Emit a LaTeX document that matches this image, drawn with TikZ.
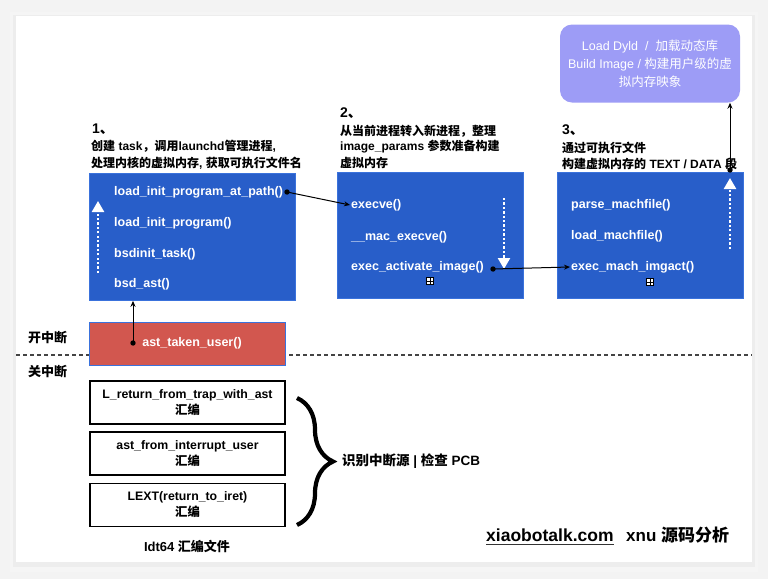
\documentclass[tikz,border=0pt]{standalone}
\usepackage{fontspec}
\setmainfont{Liberation Sans}
\newfontfamily\cjk{Noto Sans CJK SC}
\newcommand\zh[1]{{\cjk #1}}
\usetikzlibrary{arrows.meta,decorations.pathreplacing,calc}
\definecolor{boxblue}{HTML}{285EC9}
\definecolor{blueedge}{HTML}{3A72DC}
\definecolor{boxred}{HTML}{D2574F}
\definecolor{lav}{HTML}{9D9CF6}
\definecolor{bgcol}{HTML}{F3F3F3}
\definecolor{dashcol}{HTML}{444444}
\tikzset{
 bluebox/.style={draw=blueedge, fill=boxblue, line width=0.8pt, inner sep=0, anchor=north west},
 fn/.style={text=white, anchor=west, inner sep=0, font=\bfseries\fontsize{12.5}{14}\selectfont},
 hdr/.style={anchor=west, inner sep=0, font=\bfseries\fontsize{12}{14}\selectfont},
 num/.style={anchor=west, inner sep=0, font=\bfseries\fontsize{14}{16}\selectfont},
 conn/.style={line width=1pt, -{Stealth[length=6pt,width=5pt]}},
 dotarr/.style={white, line width=2.4pt, dash pattern=on 2.3pt off 2.1pt, -{Triangle[length=11pt,width=12pt]}},
 asmbox/.style={draw=black, line width=1.2pt, fill=white, minimum width=195, minimum height=43, inner sep=0, align=center, font=\bfseries\fontsize{12.3}{16}\selectfont},
 plusbox/.style={draw=black, fill=white, minimum size=7pt, inner sep=0, line width=0.6pt},
 side/.style={anchor=west, inner sep=0, font=\bfseries\fontsize{13}{15}\selectfont},
}
\begin{document}
\begin{tikzpicture}[x=1pt,y=-1pt]
\useasboundingbox (0,0) rectangle (768,579);
\fill[bgcol] (0,0) rectangle (768,579);
\fill[black!4] (10,12) rectangle (758,572);
\fill[black!7] (13,15) rectangle (755,567);
\fill[white] (16,16) rectangle (752,562);

% dashed separator
\draw[dashcol, line width=1.6pt, dash pattern=on 4pt off 3pt] (16,355) -- (752,355);
\node[side] (on) at (28,338) {\zh{开中断}};
\node[side] (off) at (28,372) {\zh{关中断}};

% box 1
\node[num] (n1) at (92,129) {1\zh{、}};
\node[hdr] (h11) at (91,146) {\zh{创建} task\zh{，调用}launchd\zh{管理进程}, };
\node[hdr] (h12) at (91,163) {\zh{处理内核的虚拟内存}, \zh{获取可执行文件名}};
\node[bluebox, minimum width=206, minimum height=127] (b1) at (89,173) {};
\node[fn] (f11) at (114,192) {load\_init\_program\_at\_path()};
\node[fn] (f12) at (114,223) {load\_init\_program()};
\node[fn] (f13) at (114,254) {bsdinit\_task()};
\node[fn] (f14) at (114,284) {bsd\_ast()};
\coordinate (a1s) at (98,273);
\coordinate (a1e) at (98,201);
\draw[dotarr] (a1s) -- (a1e);
\coordinate (d1) at (287,192);

% box 2
\node[num] (n2) at (340,113) {2\zh{、}};
\node[hdr] (h21) at (340,131) {\zh{从当前进程转入新进程，整理}};
\node[hdr] (h22) at (340,147) {image\_params \zh{参数准备构建}};
\node[hdr] (h23) at (340,163) {\zh{虚拟内存}};
\node[bluebox, minimum width=186, minimum height=126] (b2) at (337,172) {};
\node[fn] (f21) at (351,205) {execve()};
\node[fn] (f22) at (351,237) {\_\_mac\_execve()};
\node[fn] (f23) at (351,267) {exec\_activate\_image()};
\node[plusbox] (p2) at (430,281) {};
\draw[line width=0.6pt] (p2.north) -- (p2.south) (p2.west) -- (p2.east);
\coordinate (a2s) at (504,198);
\coordinate (a2e) at (504,269);
\draw[dotarr] (a2s) -- (a2e);
\coordinate (d2) at (493,269);

% box 3
\node[num] (n3) at (562,130) {3\zh{、}};
\node[hdr] (h31) at (562,148) {\zh{通过可执行文件}};
\node[hdr] (h32) at (562,164) {\zh{构建虚拟内存的} TEXT / DATA \zh{段}};
\node[bluebox, minimum width=186, minimum height=126] (b3) at (557,172) {};
\node[fn] (f31) at (571,205) {parse\_machfile()};
\node[fn] (f32) at (571,236) {load\_machfile()};
\node[fn] (f33) at (571,267) {exec\_mach\_imgact()};
\node[plusbox] (p3) at (650,282) {};
\draw[line width=0.6pt] (p3.north) -- (p3.south) (p3.west) -- (p3.east);
\coordinate (a3s) at (730,249);
\coordinate (a3e) at (730,178);
\draw[dotarr] (a3s) -- (a3e);
\coordinate (d3) at (730,170);

% purple box
\node[fill=lav, rounded corners=12pt, minimum width=180, minimum height=78, inner sep=0, text=white, align=center,
  font=\fontsize{12.5}{18}\selectfont] (pb) at (650,63.5)
  {Load Dyld \ / \ \zh{加载动态库}\\ Build Image / \zh{构建用户级的虚}\\ \zh{拟内存映象}};

% red box
\node[draw=blueedge, fill=boxred, line width=1pt, minimum width=196, minimum height=43, inner sep=0,
  text=white, font=\bfseries\fontsize{12.5}{14}\selectfont] (rb) at (187,343.5) {\hspace{10pt}ast\_taken\_user()};
\coordinate (d4) at (133,343);

% connectors
\fill (d1) circle[radius=2.7pt];
\draw[conn] (d1) -- ([xshift=-1pt]f21.west);
\fill (d2) circle[radius=2.7pt];
\draw[conn] (d2) -- ([xshift=-1pt]f33.west);
\fill (d3) circle[radius=2.7pt];
\draw[conn] (d3) -- (d3 |- pb.south);
\fill (d4) circle[radius=2.7pt];
\draw[conn] (d4) -- (d4 |- b1.south);

% asm boxes
\node[asmbox] (s1) at (187.5,402.5) {L\_return\_from\_trap\_with\_ast\\ \zh{汇编}};
\node[asmbox] (s2) at (187.5,453.5) {ast\_from\_interrupt\_user\\ \zh{汇编}};
\node[asmbox] (s3) at (187.5,505) {LEXT(return\_to\_iret)\\ \zh{汇编}};
\node[inner sep=0, font=\bfseries\fontsize{13}{15}\selectfont] (cap) at (187,546) {Idt64 \zh{汇编文件}};

% brace
\coordinate (br1) at (297,398);
\coordinate (br2) at (297,525);
\draw[line width=4.2pt, decorate, decoration={brace, amplitude=36pt, aspect=0.5}] (br1) -- (br2);
\node[anchor=west, inner sep=0, font=\bfseries\fontsize{13.5}{16}\selectfont] (pcb) at (342,461) {\zh{识别中断源} | \zh{检查} PCB};

% footer
\node[anchor=west, inner sep=0, font=\bfseries\fontsize{17.5}{20}\selectfont] (site) at (486,535) {xiaobotalk.com};
\draw[line width=1pt, black!80] (site.south west) ++(0,3) coordinate (u1) -- (u1 -| site.east);
\node[anchor=west, inner sep=0, font=\bfseries\fontsize{17}{20}\selectfont] (xnu) at (626,535) {xnu \zh{源码分析}};
\end{tikzpicture}
\end{document}
